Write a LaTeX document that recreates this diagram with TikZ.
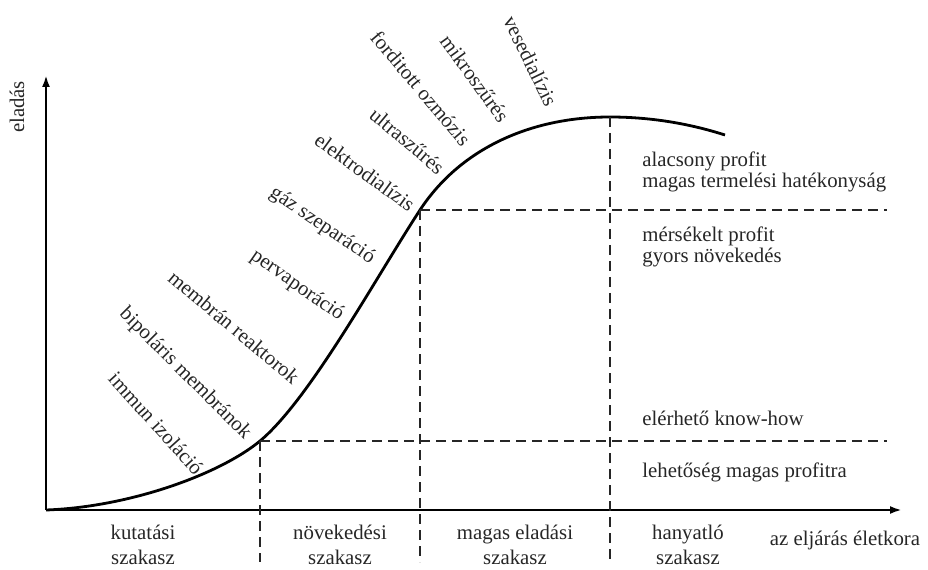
\documentclass[tikz,border=0pt]{standalone}
\usepackage{fontspec}
\setmainfont{Liberation Serif}
\usetikzlibrary{positioning,arrows.meta,calc}
\definecolor{Ink}{HTML}{262626}
\tikzset{
  lbl/.style={font=\fontsize{10.4}{10.6}\selectfont, text=Ink, inner sep=0pt},
  tech/.style={lbl, anchor=east},
  phase/.style={lbl, align=center, font=\fontsize{10.4}{12.6}\selectfont},
  note/.style={lbl, anchor=west, align=left},
  axis/.style={-{Latex[length=6pt,width=4pt]}, line width=1.2pt},
  guide/.style={line width=0.8pt, dash pattern=on 5pt off 3pt, Ink},
}
\begin{document}
\begin{tikzpicture}[x=0.5pt, y=0.5pt]
  \useasboundingbox (0,0) rectangle (928,569);
  % axes
  \coordinate (o) at (46,59);
  \coordinate (ytop) at (46,494);
  \coordinate (xend) at (902,59);
  \draw[axis] (o) -- (ytop);
  \draw[axis] (o) -- (xend);
  % life cycle curve
  \coordinate (c1) at (260,128);
  \coordinate (c2) at (420,359);
  \coordinate (c3) at (610,452);
  \coordinate (cend) at (725,434);
  \draw[line width=1.4pt] (o) .. controls (130,62) and (220,95) .. (c1)
    .. controls (310,170) and (375,290) .. (c2)
    .. controls (460,420) and (530,452) .. (c3)
    .. controls (660,452) and (700,442) .. (cend);
  % phase borders
  \coordinate (b1) at (260,7);
  \coordinate (b2) at (420,7);
  \coordinate (b3) at (610,7);
  \coordinate (h1) at (887,128);
  \coordinate (h2) at (887,359);
  \draw[guide] (c1) -- (b1);
  \draw[guide] (c2) -- (b2);
  \draw[guide] (c3) -- (b3);
  \draw[guide] (c1) -- (h1);
  \draw[guide] (c2) -- (h2);
  % axis labels
  \node[lbl, rotate=90] (sales) at (17,462) {eladás};
  \node[lbl] (age) at (845,29) {az eljárás életkora};
  % phases
  \node[phase] (research) at (143,24) {kutatási\\szakasz};
  \node[phase] (growth) at (340,24) {növekedési\\szakasz};
  \node[phase] (peak) at (515,24) {magas eladási\\szakasz};
  \node[phase] (decline) at (688,24) {hanyatló\\szakasz};
  % notes on the right
  \node[note] (lowprofit) at (642,397) {alacsony profit\\magas termelési hatékonyság};
  \node[note] (midprofit) at (642,322) {mérsékelt profit\\gyors növekedés};
  \node[note] (knowhow) at (642,151) {elérhető know-how};
  \node[note] (highprofit) at (642,97) {lehetőség magas profitra};
  % membrane processes along the curve
  \node[tech, rotate=-48] (immun) at (200,97) {immun izoláció};
  \node[tech, rotate=-45] (bipolar) at (248,132) {bipoláris membránok};
  \node[tech, rotate=-40] (reactor) at (297,189) {membrán reaktorok};
  \node[tech, rotate=-35] (pervap) at (342,252) {pervaporáció};
  \node[tech, rotate=-34] (gas) at (373,309) {gáz szeparáció};
  \node[tech, rotate=-36] (electro) at (413,362) {elektrodialízis};
  \node[tech, rotate=-40] (ultra) at (442,399) {ultraszűrés};
  \node[tech, rotate=-50] (reverse) at (467,426) {forditott ozmózis};
  \node[tech, rotate=-54] (micro) at (505,449) {mikroszűrés};
  \node[tech, rotate=-64] (dialysis) at (552,464) {vesedialízis};
\end{tikzpicture}
\end{document}
